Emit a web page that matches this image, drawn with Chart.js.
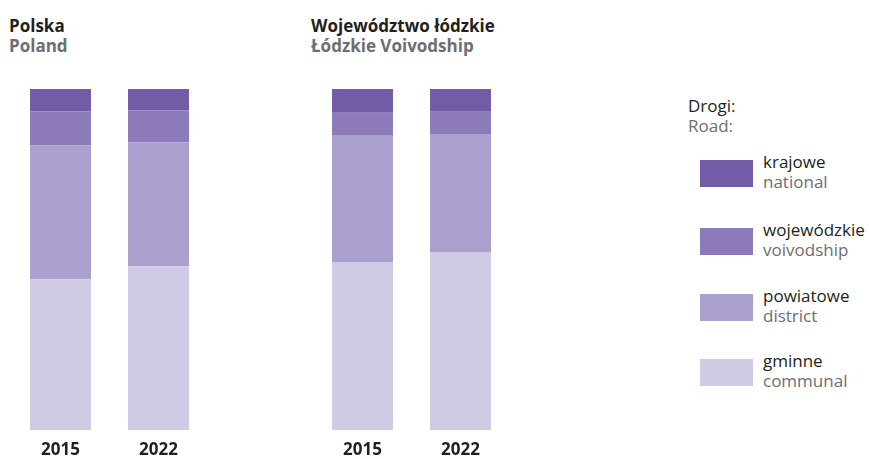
<!DOCTYPE html>
<html>
<head>
<meta charset="utf-8">
<script src="https://cdn.jsdelivr.net/npm/chart.js@4"></script>
<style>
  html, body { margin: 0; padding: 0; background: #fff; overflow: hidden; width: 869px; height: 459px; }
  body { position: relative; font-family: "Open Sans", "Noto Sans", sans-serif; }
  .abs { position: absolute; white-space: nowrap; }
  .title { font-size: 17px; font-weight: 700; line-height: 20px; }
  .pl { color: #231f20; }
  .en { color: #6d6e71; }
  .leg { font-size: 17px; font-weight: 400; line-height: 20px; }
  canvas { position: absolute; top: 0; }
</style>
</head>
<body>
<div class="abs title" style="left:9px; top:16px;"><div class="pl" id="t1pl"></div><div class="en" id="t1en"></div></div>
<div class="abs title" style="left:311px; top:16px;"><div class="pl" id="t2pl"></div><div class="en" id="t2en"></div></div>
<canvas id="c1" width="220" height="480" style="left:0px;"></canvas>
<canvas id="c2" width="220" height="480" style="left:300px;"></canvas>
<div id="legend"></div>
<script>
// ---- data ----
const years = ['2015', '2022'];
const groupTitlesPL = ['Polska', 'Województwo łódzkie'];
const groupTitlesEN = ['Poland', 'Łódzkie Voivodship'];
const legendHeadPL = 'Drogi:';
const legendHeadEN = 'Road:';
const roadTypesPL = ['krajowe', 'wojewódzkie', 'powiatowe', 'gminne'];
const roadTypesEN = ['national', 'voivodship', 'district', 'communal'];

// shares in % (Poland)
const polandNational   = [6.5, 6.2];
const polandVoivodship = [10.0, 9.4];
const polandDistrict   = [39.3, 36.4];
const polandCommunal   = [44.2, 48.0];
// shares in % (Łódzkie)
const lodzNational   = [7.0, 6.7];
const lodzVoivodship = [6.7, 6.5];
const lodzDistrict   = [37.0, 34.6];
const lodzCommunal   = [49.3, 52.2];

// ---- styles ----
const colors = ['#725ca6', '#8d7bb9', '#aa9fcd', '#d0cbe5'];

document.getElementById('t1pl').textContent = groupTitlesPL[0];
document.getElementById('t1en').textContent = groupTitlesEN[0];
document.getElementById('t2pl').textContent = groupTitlesPL[1];
document.getElementById('t2en').textContent = groupTitlesEN[1];

function makeChart(id, series, padLeft, padRight) {
  // series order: national, voivodship, district, communal; stacked bottom-up reversed
  const datasets = [];
  for (let i = series.length - 1; i >= 0; i--) {
    datasets.push({
      label: roadTypesPL[i] + ' / ' + roadTypesEN[i],
      data: series[i],
      backgroundColor: colors[i],
      borderWidth: 0,
      barPercentage: 0.622,
      categoryPercentage: 1.0
    });
  }
  return new Chart(document.getElementById(id), {
    type: 'bar',
    data: { labels: years, datasets },
    options: {
      responsive: false,
      animation: false,
      layout: { padding: { top: 89, bottom: 10.6, left: padLeft, right: padRight } },
      plugins: { legend: { display: false }, tooltip: { enabled: false } },
      scales: {
        x: {
          stacked: true,
          grid: { display: false, drawTicks: false },
          border: { display: false },
          ticks: {
            padding: 9.5,
            color: '#231f20',
            font: { family: '"Open Sans", "Noto Sans", sans-serif', size: 17, weight: 'bold', lineHeight: 1.2 }
          }
        },
        y: { stacked: true, display: false, min: 0, max: 100 }
      }
    }
  });
}

makeChart('c1', [polandNational, polandVoivodship, polandDistrict, polandCommunal], 11.5, 12.5);
makeChart('c2', [lodzNational, lodzVoivodship, lodzDistrict, lodzCommunal], 13.5, 10.5);

// ---- legend (HTML) ----
const legend = document.getElementById('legend');
const head = document.createElement('div');
head.className = 'abs leg';
head.style.left = '688px';
head.style.top = '96px';
head.innerHTML = '<div class="pl"></div><div class="en"></div>';
head.children[0].textContent = legendHeadPL;
head.children[1].textContent = legendHeadEN;
legend.appendChild(head);
const swatchTops = [160, 228, 294, 359];
roadTypesPL.forEach((name, i) => {
  const sw = document.createElement('div');
  sw.className = 'abs';
  sw.style.left = '700px';
  sw.style.top = swatchTops[i] + 'px';
  sw.style.width = '53px';
  sw.style.height = '27px';
  sw.style.background = colors[i];
  legend.appendChild(sw);
  const tx = document.createElement('div');
  tx.className = 'abs leg';
  tx.style.left = '763px';
  tx.style.top = (swatchTops[i] - 8.5) + 'px';
  tx.innerHTML = '<div class="pl"></div><div class="en"></div>';
  tx.children[0].textContent = name;
  tx.children[1].textContent = roadTypesEN[i];
  legend.appendChild(tx);
});
</script>
</body>
</html>
